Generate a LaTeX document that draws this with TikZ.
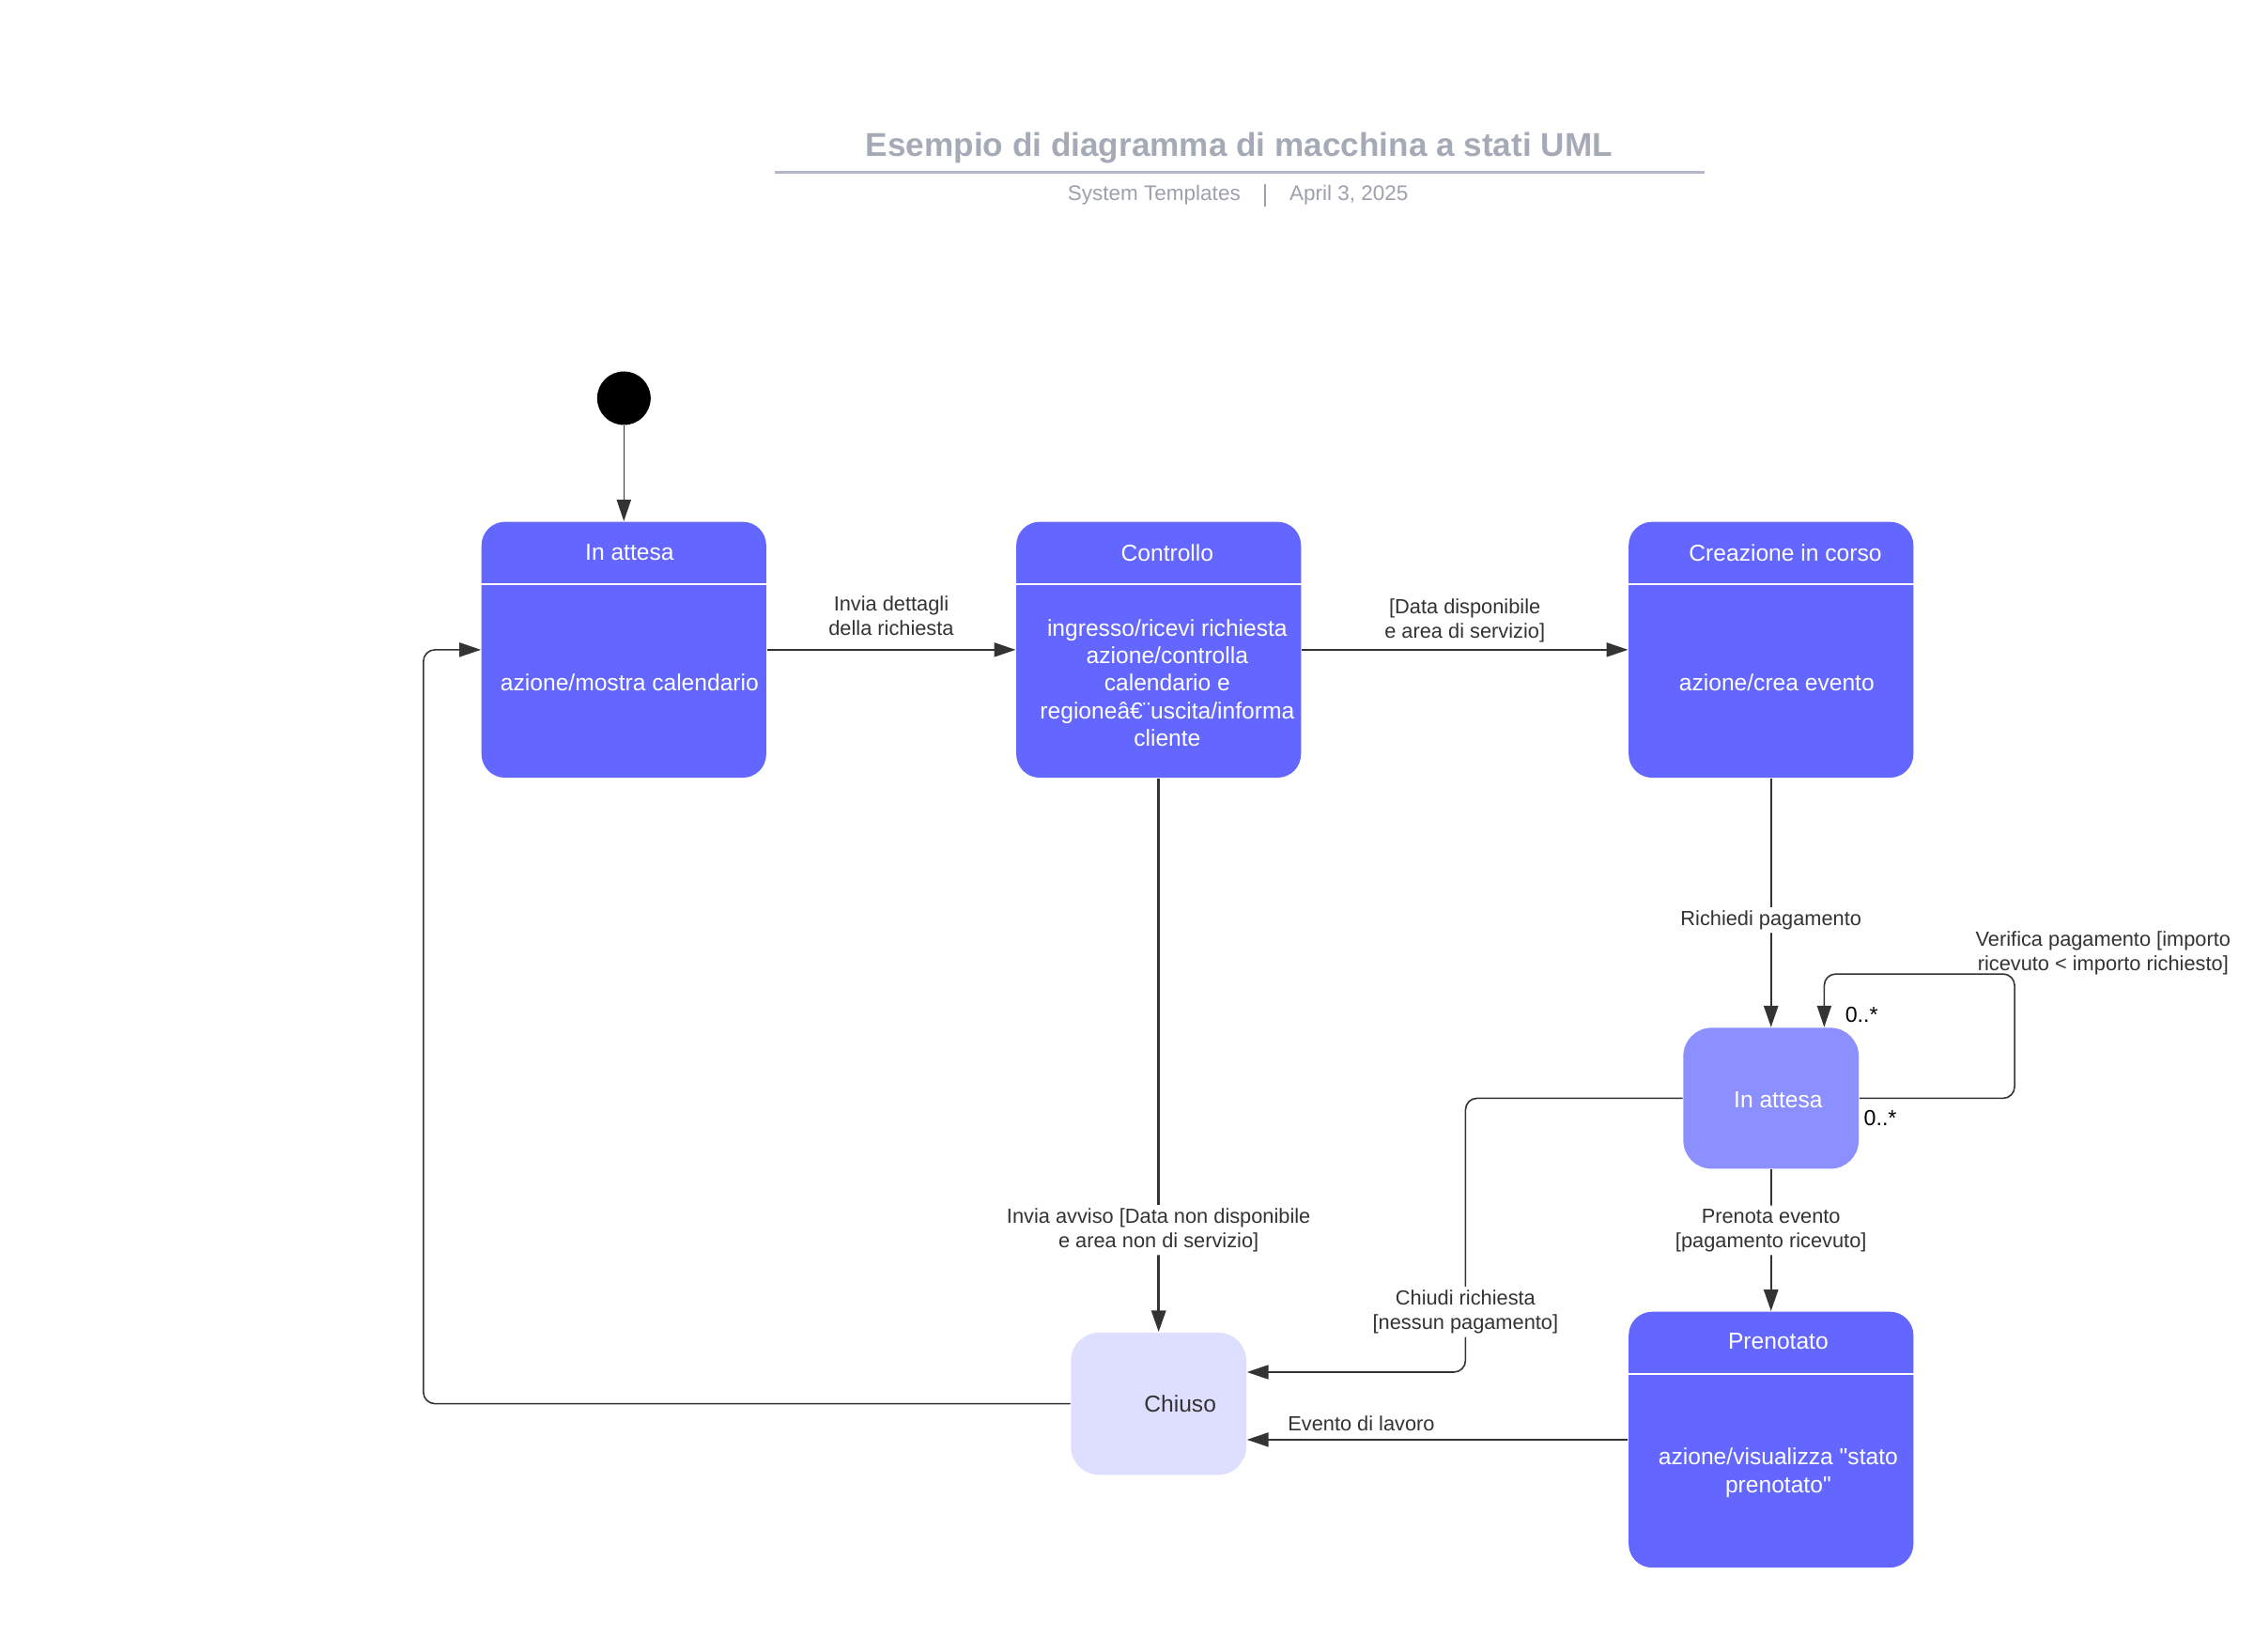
\documentclass[tikz,border=0pt]{standalone}
\usepackage{fontspec}
\setmainfont{Liberation Sans}[Ligatures=TeXOff]
\usepackage{tikz}
\usetikzlibrary{arrows.meta, positioning, calc}

\definecolor{stateblue}{HTML}{6366FF}
\definecolor{waitblue}{HTML}{8B8FFF}
\definecolor{closedlav}{HTML}{DEDFFF}
\definecolor{edgegray}{HTML}{333333}
\definecolor{titlegray}{HTML}{A5AAB7}
\definecolor{rulegray}{HTML}{B3B6C8}
\definecolor{subgray}{HTML}{9CA1AD}

\begin{document}
\begin{tikzpicture}[
  x=0.015306cm, y=-0.015306cm,
  state/.style={fill=stateblue, rounded corners=0.25cm, minimum width=3.031cm,
                minimum height=2.724cm, inner sep=0pt},
  waitbox/.style={fill=waitblue, rounded corners=0.3cm, minimum width=1.867cm,
                  minimum height=1.5cm, inner sep=0pt},
  closedbox/.style={fill=closedlav, rounded corners=0.3cm, minimum width=1.867cm,
                    minimum height=1.515cm, inner sep=0pt},
  initial/.style={circle, fill=black, minimum size=0.57cm, inner sep=0pt},
  divider/.style={white, line width=0.5pt},
  statetxt/.style={text=white, font=\fontsize{7}{8.3}\selectfont, align=center, inner sep=0pt},
  trlabel/.style={text=edgegray, font=\fontsize{6.2}{7.4}\selectfont, align=center, inner sep=1pt},
  onpath/.style={trlabel, fill=white},
  mult/.style={text=black, font=\fontsize{6.6}{7.6}\selectfont, inner sep=0pt},
  trans/.style={-{Triangle[length=6.5pt, width=4.3pt]}, edgegray, line width=0.45pt,
                rounded corners=3.5pt},
]
\fill[white] (0,0) rectangle (1568,1149);

% Title block
\node[font=\fontsize{10}{12}\selectfont\bfseries, text=titlegray] (title) at (862,103)
  {Esempio di diagramma di macchina a stati UML};
\draw[rulegray, line width=1pt] (539,120) -- (1186,120);
\node[font=\fontsize{6.4}{7.4}\selectfont, text=subgray, anchor=east] (sys) at (871,136) {System Templates};
\node[font=\fontsize{6.4}{7.4}\selectfont, text=subgray, anchor=west] (date) at (889,136) {April 3, 2025};
\draw[subgray, line width=0.4pt] (880,128) -- (880,144);

% States
\node[initial] (init) at (434,277) {};
\node[state] (idle) at (434,452) {};
\node[state] (check) at (806,452) {};
\node[state] (create) at (1232,452) {};
\node[waitbox] (wait) at (1232,764) {};
\node[state] (booked) at (1232,1001.5) {};
\node[closedbox] (closed) at (806,976.5) {};

\foreach \s in {idle, check, create, booked} {
  \draw[divider] ($(\s.north west)+(0,44)$) -- ($(\s.north east)+(0,44)$);
}

% State texts
\node[statetxt] at ($(idle.north)+(4,22)$) {In attesa};
\node[statetxt] at ($(idle.center)+(4,23)$) {azione/mostra calendario};
\node[statetxt] at ($(check.north)+(6,22)$) {Controllo};
\node[statetxt] at ($(check.center)+(6,23)$)
  {ingresso/ricevi richiesta\\azione/controlla\\calendario e\\regioneâ€¨uscita/informa\\cliente};
\node[statetxt] at ($(create.north)+(10,22)$) {Creazione in corso};
\node[statetxt] at ($(create.center)+(4,23)$) {azione/crea evento};
\node[statetxt] at ($(wait.center)+(5,1)$) {In attesa};
\node[statetxt] at ($(booked.north)+(5,21)$) {Prenotato};
\node[statetxt] at ($(booked.center)+(5,23)$)
  {azione/visualizza "stato\\prenotato"};
\node[statetxt, text=edgegray] at ($(closed.center)+(15,0)$) {Chiuso};

% Transitions
\draw[trans] (init) -- (idle);
\draw[trans] (idle.east) -- node[trlabel, above, yshift=3pt] {Invia dettagli\\della richiesta} (check.west);
\draw[trans] (check.east) -- node[trlabel, above, yshift=1pt] {[Data disponibile\\e area di servizio]} (create.west);
\draw[trans, line width=0.85pt] (check.south) -- node[onpath, pos=.816]
  {Invia avviso [Data non disponibile\\e area non di servizio]} (closed.north);
\draw[trans, line width=0.7pt] (create.south) -- node[onpath, pos=.57] {Richiedi pagamento} (wait.north);
\draw[trans, line width=0.7pt] (wait.south) -- node[onpath, pos=.43]
  {Prenota evento\\{}[pagamento ricevuto]} (booked.north);
\draw[trans] (wait.east) -- ++(108,0) |- ($(wait.north)+(37,-37)$) -- ($(wait.north)+(37,0)$);
\node[trlabel] (looplbl) at (1463,663) {Verifica pagamento [importo\\ricevuto < importo richiesto]};
\node[mult] at (1295,706) {0..*};
\node[mult] at (1308,778) {0..*};
\draw[trans] (wait.west) -| node[onpath, pos=.89] {Chiudi richiesta\\{}[nessun pagamento]}
  ($(closed.east)+(152,-22)$) -- ($(closed.east)+(0,-22)$);
\draw[trans] (booked.west) -- node[trlabel, above, pos=.7, yshift=1.5pt] {Evento di lavoro} (booked.west -| closed.east);
\draw[trans] (closed.west) -- ++(-450,0) |- (idle.west);
\end{tikzpicture}
\end{document}
